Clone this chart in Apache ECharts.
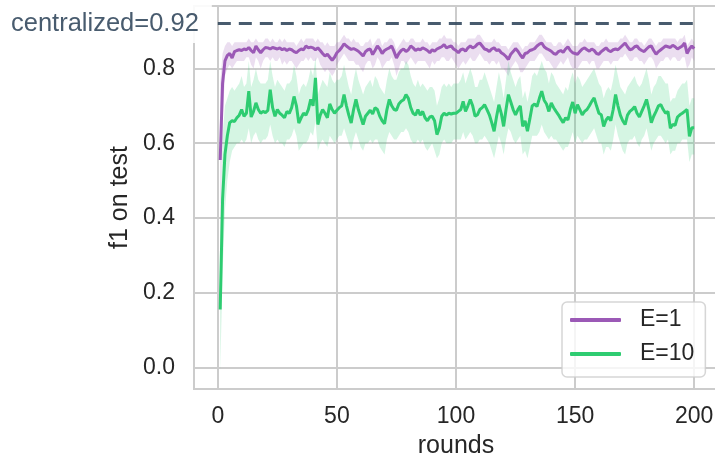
<!DOCTYPE html>
<html><head><meta charset="utf-8">
<script src="https://cdn.jsdelivr.net/npm/echarts@6/dist/echarts.min.js"></script>
<style>html,body{margin:0;padding:0;background:#fff}#chart{width:715px;height:461px}</style>
</head><body><div id="chart"></div>
<script>
// F1 on the test set per communication round, mean with spread band, for two local-epoch settings
const seriesNames = ['E=1', 'E=10'];
const xTicks = [0, 50, 100, 150, 200];
const yTicks = [0, 0.2, 0.4, 0.6, 0.8];
const centralizedF1 = 0.92;

const e1Mean = [
0.555,0.76,0.82,0.835,0.84,0.828,0.845,0.848,0.85,0.848,
0.852,0.85,0.856,0.848,0.842,0.86,0.85,0.842,0.85,0.856,
0.855,0.852,0.856,0.854,0.852,0.855,0.85,0.853,0.848,0.852,
0.85,0.845,0.842,0.848,0.852,0.85,0.86,0.855,0.857,0.855,
0.85,0.855,0.848,0.84,0.833,0.838,0.83,0.822,0.83,0.842,
0.848,0.856,0.866,0.86,0.855,0.851,0.853,0.85,0.846,0.84,
0.833,0.845,0.85,0.852,0.837,0.848,0.86,0.852,0.84,0.848,
0.852,0.855,0.86,0.845,0.828,0.84,0.848,0.852,0.845,0.85,
0.86,0.855,0.848,0.852,0.85,0.855,0.852,0.848,0.842,0.85,
0.846,0.852,0.855,0.858,0.864,0.855,0.858,0.86,0.852,0.848,
0.842,0.85,0.852,0.846,0.855,0.86,0.855,0.858,0.865,0.868,
0.86,0.852,0.85,0.845,0.852,0.855,0.848,0.85,0.842,0.838,
0.832,0.824,0.838,0.845,0.853,0.846,0.836,0.828,0.84,0.842,
0.848,0.85,0.853,0.86,0.865,0.868,0.858,0.853,0.85,0.846,
0.84,0.838,0.845,0.848,0.843,0.852,0.858,0.848,0.842,0.84,
0.838,0.845,0.852,0.855,0.85,0.846,0.852,0.848,0.84,0.838,
0.845,0.85,0.855,0.848,0.845,0.85,0.852,0.85,0.856,0.862,
0.868,0.858,0.85,0.852,0.858,0.86,0.852,0.848,0.845,0.852,
0.858,0.86,0.848,0.838,0.845,0.85,0.855,0.86,0.858,0.856,
0.862,0.858,0.852,0.856,0.86,0.868,0.84,0.852,0.86,0.853
];
const e1Low = [
0.33,0.66,0.78,0.80,0.81,0.80,0.81,0.82,0.82,0.82,
0.82,0.83,0.83,0.81,0.80,0.83,0.82,0.80,0.82,0.83,
0.83,0.82,0.83,0.82,0.82,0.83,0.81,0.82,0.81,0.82,
0.82,0.81,0.80,0.81,0.82,0.82,0.83,0.82,0.83,0.82,
0.82,0.83,0.81,0.80,0.79,0.80,0.79,0.78,0.79,0.81,
0.82,0.83,0.84,0.83,0.82,0.82,0.82,0.81,0.81,0.80,
0.79,0.81,0.82,0.82,0.80,0.81,0.83,0.82,0.80,0.81,
0.82,0.82,0.83,0.81,0.78,0.80,0.82,0.82,0.81,0.82,
0.83,0.82,0.81,0.82,0.82,0.82,0.82,0.81,0.80,0.82,
0.81,0.82,0.82,0.83,0.83,0.82,0.82,0.83,0.82,0.81,
0.80,0.81,0.82,0.81,0.82,0.83,0.82,0.82,0.83,0.84,
0.83,0.82,0.82,0.81,0.82,0.82,0.81,0.82,0.80,0.80,
0.79,0.78,0.80,0.81,0.82,0.81,0.79,0.79,0.80,0.81,
0.82,0.82,0.82,0.83,0.84,0.84,0.83,0.82,0.82,0.81,
0.80,0.80,0.81,0.82,0.81,0.82,0.83,0.81,0.80,0.80,
0.80,0.81,0.82,0.82,0.82,0.81,0.82,0.82,0.80,0.80,
0.81,0.82,0.82,0.82,0.81,0.82,0.82,0.82,0.83,0.83,
0.84,0.83,0.82,0.82,0.83,0.83,0.82,0.82,0.81,0.82,
0.83,0.83,0.82,0.80,0.81,0.82,0.82,0.83,0.83,0.82,
0.83,0.83,0.82,0.82,0.83,0.83,0.80,0.81,0.83,0.82
];
const e1High = [
0.76,0.84,0.86,0.87,0.87,0.86,0.87,0.87,0.87,0.87,
0.87,0.87,0.88,0.87,0.87,0.88,0.87,0.87,0.87,0.88,
0.88,0.87,0.88,0.87,0.87,0.88,0.87,0.88,0.87,0.87,
0.87,0.87,0.86,0.87,0.88,0.87,0.88,0.88,0.88,0.88,
0.87,0.88,0.87,0.87,0.86,0.87,0.86,0.86,0.86,0.87,
0.87,0.88,0.89,0.88,0.88,0.87,0.88,0.87,0.87,0.86,
0.86,0.87,0.87,0.88,0.86,0.87,0.88,0.88,0.86,0.87,
0.87,0.88,0.88,0.87,0.85,0.86,0.87,0.88,0.87,0.87,
0.88,0.88,0.87,0.87,0.87,0.88,0.87,0.87,0.86,0.87,
0.87,0.87,0.88,0.88,0.89,0.88,0.88,0.88,0.87,0.87,
0.86,0.87,0.87,0.87,0.88,0.88,0.88,0.88,0.89,0.89,
0.88,0.87,0.87,0.87,0.87,0.88,0.87,0.87,0.86,0.86,
0.86,0.85,0.86,0.87,0.87,0.87,0.86,0.85,0.86,0.86,
0.87,0.87,0.87,0.88,0.89,0.89,0.88,0.87,0.87,0.87,
0.86,0.86,0.87,0.87,0.86,0.87,0.88,0.87,0.86,0.86,
0.86,0.87,0.87,0.88,0.87,0.87,0.87,0.87,0.86,0.86,
0.87,0.87,0.88,0.87,0.87,0.87,0.87,0.87,0.88,0.88,
0.89,0.88,0.87,0.87,0.88,0.88,0.87,0.87,0.86,0.87,
0.88,0.88,0.87,0.86,0.87,0.87,0.88,0.88,0.88,0.88,
0.88,0.88,0.87,0.88,0.88,0.89,0.86,0.87,0.88,0.87
];
const e10Mean = [
0.155,0.45,0.57,0.62,0.655,0.66,0.658,0.668,0.675,0.69,
0.672,0.68,0.739,0.67,0.685,0.708,0.69,0.68,0.685,0.682,
0.688,0.743,0.695,0.672,0.69,0.68,0.675,0.668,0.685,0.68,
0.695,0.725,0.7,0.654,0.668,0.68,0.675,0.69,0.717,0.7,
0.775,0.65,0.675,0.69,0.68,0.668,0.705,0.69,0.68,0.688,
0.695,0.7,0.73,0.7,0.675,0.654,0.69,0.717,0.69,0.67,
0.65,0.672,0.68,0.688,0.678,0.695,0.69,0.672,0.66,0.652,
0.69,0.717,0.7,0.69,0.688,0.705,0.712,0.716,0.73,0.72,
0.695,0.68,0.675,0.69,0.675,0.685,0.668,0.66,0.67,0.672,
0.66,0.623,0.64,0.672,0.68,0.675,0.68,0.678,0.68,0.68,
0.685,0.69,0.712,0.685,0.7,0.717,0.7,0.672,0.676,0.69,
0.695,0.703,0.69,0.676,0.655,0.632,0.67,0.703,0.68,0.645,
0.69,0.73,0.71,0.69,0.676,0.69,0.7,0.645,0.66,0.632,
0.665,0.7,0.705,0.698,0.72,0.739,0.715,0.705,0.685,0.708,
0.695,0.685,0.676,0.665,0.655,0.668,0.662,0.69,0.71,0.68,
0.703,0.69,0.676,0.685,0.69,0.7,0.712,0.721,0.7,0.68,
0.676,0.645,0.662,0.67,0.66,0.69,0.73,0.7,0.675,0.66,
0.65,0.675,0.685,0.69,0.698,0.68,0.67,0.685,0.7,0.717,
0.69,0.655,0.672,0.685,0.7,0.703,0.69,0.68,0.685,0.64,
0.65,0.648,0.67,0.676,0.68,0.685,0.69,0.618,0.641,0.641
];
const e10Low = [
-0.01,0.25,0.42,0.50,0.55,0.58,0.59,0.60,0.60,0.61,
0.60,0.61,0.64,0.60,0.62,0.63,0.61,0.60,0.61,0.61,
0.62,0.65,0.62,0.60,0.61,0.60,0.60,0.59,0.61,0.61,
0.62,0.64,0.62,0.58,0.59,0.60,0.60,0.61,0.63,0.62,
0.66,0.58,0.60,0.61,0.60,0.59,0.62,0.61,0.60,0.61,
0.62,0.62,0.64,0.62,0.60,0.58,0.61,0.63,0.61,0.59,
0.58,0.60,0.60,0.61,0.60,0.61,0.61,0.59,0.58,0.57,
0.61,0.63,0.62,0.61,0.61,0.62,0.63,0.63,0.64,0.63,
0.61,0.60,0.60,0.61,0.60,0.61,0.59,0.58,0.59,0.60,
0.58,0.56,0.57,0.60,0.61,0.60,0.60,0.60,0.61,0.61,
0.61,0.61,0.63,0.61,0.62,0.63,0.62,0.60,0.60,0.61,
0.61,0.62,0.61,0.60,0.58,0.56,0.59,0.62,0.60,0.57,
0.61,0.64,0.63,0.61,0.60,0.61,0.62,0.57,0.58,0.56,
0.59,0.62,0.62,0.62,0.63,0.65,0.63,0.62,0.61,0.62,
0.61,0.61,0.60,0.59,0.58,0.59,0.59,0.61,0.63,0.60,
0.62,0.61,0.60,0.61,0.61,0.62,0.63,0.64,0.62,0.60,
0.60,0.57,0.59,0.59,0.58,0.61,0.65,0.62,0.60,0.58,
0.57,0.60,0.61,0.61,0.62,0.60,0.59,0.61,0.62,0.64,
0.61,0.58,0.60,0.61,0.62,0.62,0.61,0.60,0.61,0.57,
0.58,0.58,0.60,0.60,0.61,0.61,0.61,0.55,0.57,0.57
];
const e10High = [
0.33,0.62,0.70,0.72,0.74,0.75,0.74,0.75,0.76,0.78,
0.75,0.76,0.82,0.75,0.77,0.80,0.77,0.76,0.76,0.76,
0.77,0.82,0.78,0.75,0.77,0.76,0.75,0.74,0.76,0.76,
0.77,0.81,0.78,0.73,0.75,0.76,0.75,0.77,0.80,0.78,
0.83,0.73,0.75,0.77,0.76,0.75,0.79,0.77,0.76,0.77,
0.77,0.78,0.81,0.78,0.75,0.73,0.77,0.80,0.77,0.75,
0.73,0.75,0.76,0.77,0.75,0.78,0.77,0.75,0.74,0.73,
0.77,0.80,0.78,0.77,0.77,0.79,0.80,0.80,0.82,0.81,
0.78,0.76,0.75,0.77,0.75,0.76,0.75,0.74,0.75,0.75,
0.74,0.70,0.72,0.75,0.76,0.75,0.76,0.75,0.76,0.76,
0.76,0.77,0.79,0.76,0.78,0.80,0.78,0.75,0.75,0.77,
0.77,0.79,0.77,0.75,0.73,0.71,0.75,0.79,0.76,0.72,
0.77,0.82,0.79,0.77,0.75,0.77,0.78,0.72,0.74,0.71,
0.74,0.78,0.79,0.78,0.80,0.82,0.80,0.79,0.76,0.79,
0.78,0.76,0.75,0.74,0.73,0.75,0.74,0.77,0.79,0.76,
0.78,0.77,0.75,0.76,0.77,0.78,0.79,0.80,0.78,0.76,
0.75,0.72,0.74,0.75,0.74,0.77,0.81,0.78,0.75,0.74,
0.73,0.75,0.76,0.77,0.78,0.76,0.75,0.76,0.78,0.80,
0.77,0.73,0.75,0.76,0.78,0.78,0.77,0.76,0.76,0.71,
0.72,0.72,0.74,0.75,0.76,0.76,0.77,0.70,0.72,0.72
];

const rounds = e1Mean.map((_, i) => i + 1);
const FONT = '"Liberation Sans", Arial, sans-serif';
const TEXT = '#262626';
const GRID = '#cccccc';
const PURPLE = '#9b59b6';
const GREEN = '#2ecc71';

const pairs = arr => arr.map((v, i) => [rounds[i], v]);

// Spread band: one filled polygon through the upper edge and back along the lower edge
function bandSeries(lo, hi, fill) {
  return {
    type: 'custom', silent: true, z: 1, clip: true,
    data: rounds.map((r, i) => [r, lo[i], hi[i]]),
    encode: { x: 0, y: [1, 2] },
    renderItem: (params, api) => {
      if (params.dataIndex !== 0) return null;
      const pts = [];
      for (let i = 0; i < rounds.length; i++) pts.push(api.coord([rounds[i], hi[i]]));
      for (let i = rounds.length - 1; i >= 0; i--) pts.push(api.coord([rounds[i], lo[i]]));
      return { type: 'polygon', shape: { points: pts }, style: { fill: fill } };
    }
  };
}

const chart = echarts.init(document.getElementById('chart'), null, { renderer: 'canvas' });
chart.setOption({
  animation: false,
  backgroundColor: '#fff',
  textStyle: { fontFamily: FONT },
  grid: { left: 194, top: 6, width: 524, height: 383, outerBoundsMode: 'none', containLabel: false,
    show: true, borderColor: GRID, borderWidth: 2, backgroundColor: 'transparent' },
  xAxis: {
    type: 'value', min: -10, max: 210,
    name: 'rounds', nameLocation: 'middle', nameGap: 45,
    nameTextStyle: { fontSize: 25, color: TEXT, fontFamily: FONT },
    axisLine: { show: false },
    axisTick: { show: false, customValues: xTicks },
    axisLabel: { customValues: xTicks, fontSize: 23, color: TEXT, margin: 16, fontFamily: FONT },
    splitLine: { show: true, lineStyle: { color: GRID, width: 2 } }
  },
  yAxis: {
    type: 'value', min: -0.0575, max: 0.967,
    name: 'f1 on test', nameLocation: 'middle', nameGap: 55,
    nameTextStyle: { fontSize: 25, color: TEXT, fontFamily: FONT },
    axisLine: { show: false },
    axisTick: { show: false, customValues: yTicks },
    axisLabel: { customValues: yTicks, fontSize: 23, color: TEXT, margin: 19, fontFamily: FONT,
      formatter: v => v.toFixed(1) },
    splitLine: { show: true, lineStyle: { color: GRID, width: 2 } }
  },
  legend: {
    data: seriesNames, orient: 'vertical', left: 562, top: 302,
    padding: [5, 11, 10, 8], itemGap: 8, itemWidth: 51, itemHeight: 4, icon: 'roundRect',
    backgroundColor: 'rgba(255,255,255,0.8)', borderColor: 'rgba(204,204,204,0.8)', borderWidth: 1.5, borderRadius: 5,
    textStyle: { fontSize: 23, color: TEXT, lineHeight: 26, fontFamily: FONT, padding: [0, 0, 0, 14] }
  },
  series: [
    bandSeries(e1Low, e1High, 'rgba(155,89,182,0.2)'),
    bandSeries(e10Low, e10High, 'rgba(46,204,113,0.2)'),
    { name: seriesNames[0], type: 'line', data: pairs(e1Mean), symbol: 'none', z: 3,
      color: PURPLE, lineStyle: { color: PURPLE, width: 3 } },
    { name: seriesNames[1], type: 'line', data: pairs(e10Mean), symbol: 'none', z: 4,
      color: GREEN, lineStyle: { color: GREEN, width: 3 } },
    { id: 'centralized', type: 'line', data: [], clip: false, z: 5,
      markLine: {
        silent: true, symbol: ['none', 'none'],
        lineStyle: { color: '#34495e', opacity: 0.9, width: 3, type: [13, 8] },
        label: { show: true, position: 'start', formatter: 'centralized=' + centralizedF1,
          color: '#34495e', fontSize: 25.5, fontFamily: FONT, backgroundColor: '#fff',
          padding: [8, 13, 5, 11], distance: 6 },
        data: [[{ coord: [xTicks[0], centralizedF1] }, { coord: [xTicks[xTicks.length - 1], centralizedF1] }]]
      } }
  ]
});
</script>
</body></html>
